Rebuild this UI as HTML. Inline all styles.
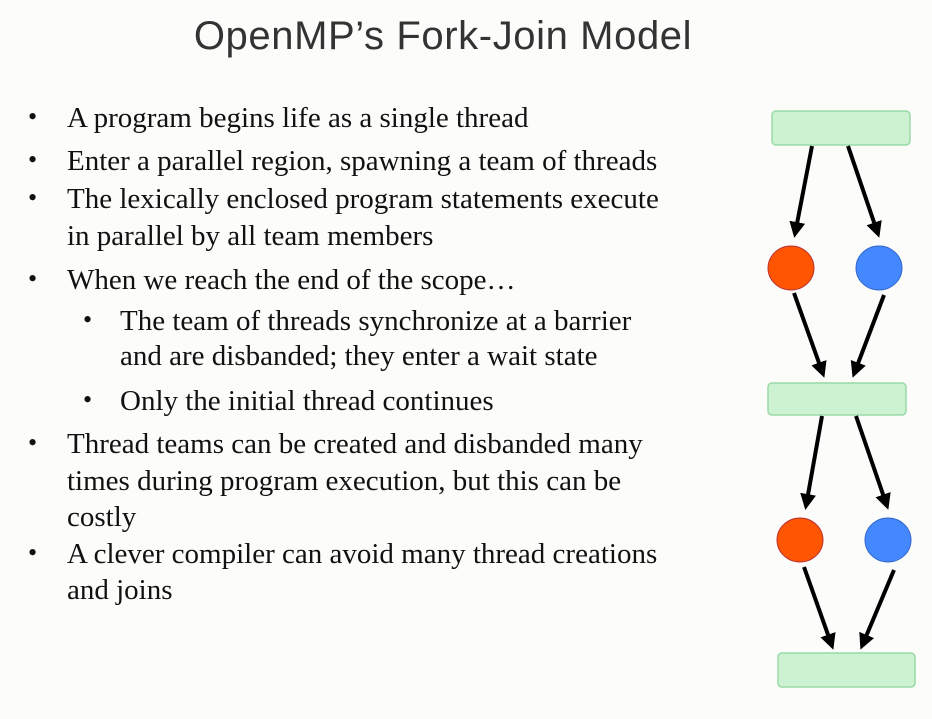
<!DOCTYPE html>
<html><head><style>
body{margin:0;width:932px;height:719px;background:#fcfcfa;position:relative;overflow:hidden;font-family:"Liberation Serif",serif;color:#111}
.t{position:absolute;left:0;width:886px;top:14px;text-align:center;font-family:"Liberation Sans",sans-serif;font-size:40px;color:#333;letter-spacing:0.6px}
.l{position:absolute;font-size:29px;white-space:nowrap;line-height:36px}
.b{position:absolute;font-size:26px}
</style></head><body>
<div class="t">OpenMP’s Fork-Join Model</div>
<div class="b" style="left:28px;top:102px">•</div><div class="l" style="left:67px;top:100px">A program begins life as a single thread</div>
<div class="b" style="left:28px;top:145px">•</div><div class="l" style="left:67px;top:143px">Enter a parallel region, spawning a team of threads</div>
<div class="b" style="left:28px;top:183px">•</div><div class="l" style="left:67px;top:181px">The lexically enclosed program statements execute</div>
<div class="l" style="left:67px;top:218px">in parallel by all team members</div>
<div class="b" style="left:28px;top:264px">•</div><div class="l" style="left:67px;top:262px">When we reach the end of the scope…</div>
<div class="b" style="left:83px;top:305px">•</div><div class="l" style="left:120px;top:303px">The team of threads synchronize at a barrier</div>
<div class="l" style="left:120px;top:338px">and are disbanded; they enter a wait state</div>
<div class="b" style="left:83px;top:385px">•</div><div class="l" style="left:120px;top:383px">Only the initial thread continues</div>
<div class="b" style="left:28px;top:428px">•</div><div class="l" style="left:67px;top:426px">Thread teams can be created and disbanded many</div>
<div class="l" style="left:67px;top:463px">times during program execution, but this can be</div>
<div class="l" style="left:67px;top:499px">costly</div>
<div class="b" style="left:28px;top:538px">•</div><div class="l" style="left:67px;top:536px">A clever compiler can avoid many thread creations</div>
<div class="l" style="left:67px;top:572px">and joins</div>
<svg width="932" height="719" style="position:absolute;left:0;top:0">
<defs><marker id="a" markerWidth="4" markerHeight="4" refX="3" refY="2" orient="auto" markerUnits="strokeWidth"><path d="M0,0L4,2L0,4z" fill="#000"/></marker></defs>
<g fill="#ccf2d2" stroke="#9ad9a6" stroke-width="1.5">
<rect x="772" y="111" width="138" height="34" rx="4"/>
<rect x="768" y="383" width="138" height="32" rx="4"/>
<rect x="778" y="653" width="137" height="34" rx="4"/>
</g>
<ellipse cx="791" cy="268" rx="23" ry="22" fill="#ff5500" stroke="#b33"/>
<ellipse cx="879" cy="268" rx="23" ry="22" fill="#4488ff" stroke="#36c"/>
<ellipse cx="800" cy="540" rx="23" ry="22" fill="#ff5500" stroke="#b33"/>
<ellipse cx="888" cy="540" rx="23" ry="22" fill="#4488ff" stroke="#36c"/>
<g stroke="#000" stroke-width="4" marker-end="url(#a)">
<line x1="812" y1="146" x2="795" y2="234"/>
<line x1="848" y1="146" x2="878" y2="234"/>
<line x1="794" y1="293" x2="823" y2="374"/>
<line x1="884" y1="295" x2="854" y2="374"/>
<line x1="822" y1="416" x2="806" y2="506"/>
<line x1="856" y1="416" x2="887" y2="506"/>
<line x1="804" y1="567" x2="832" y2="646"/>
<line x1="894" y1="570" x2="862" y2="646"/>
</g>
</svg>
</body></html>
